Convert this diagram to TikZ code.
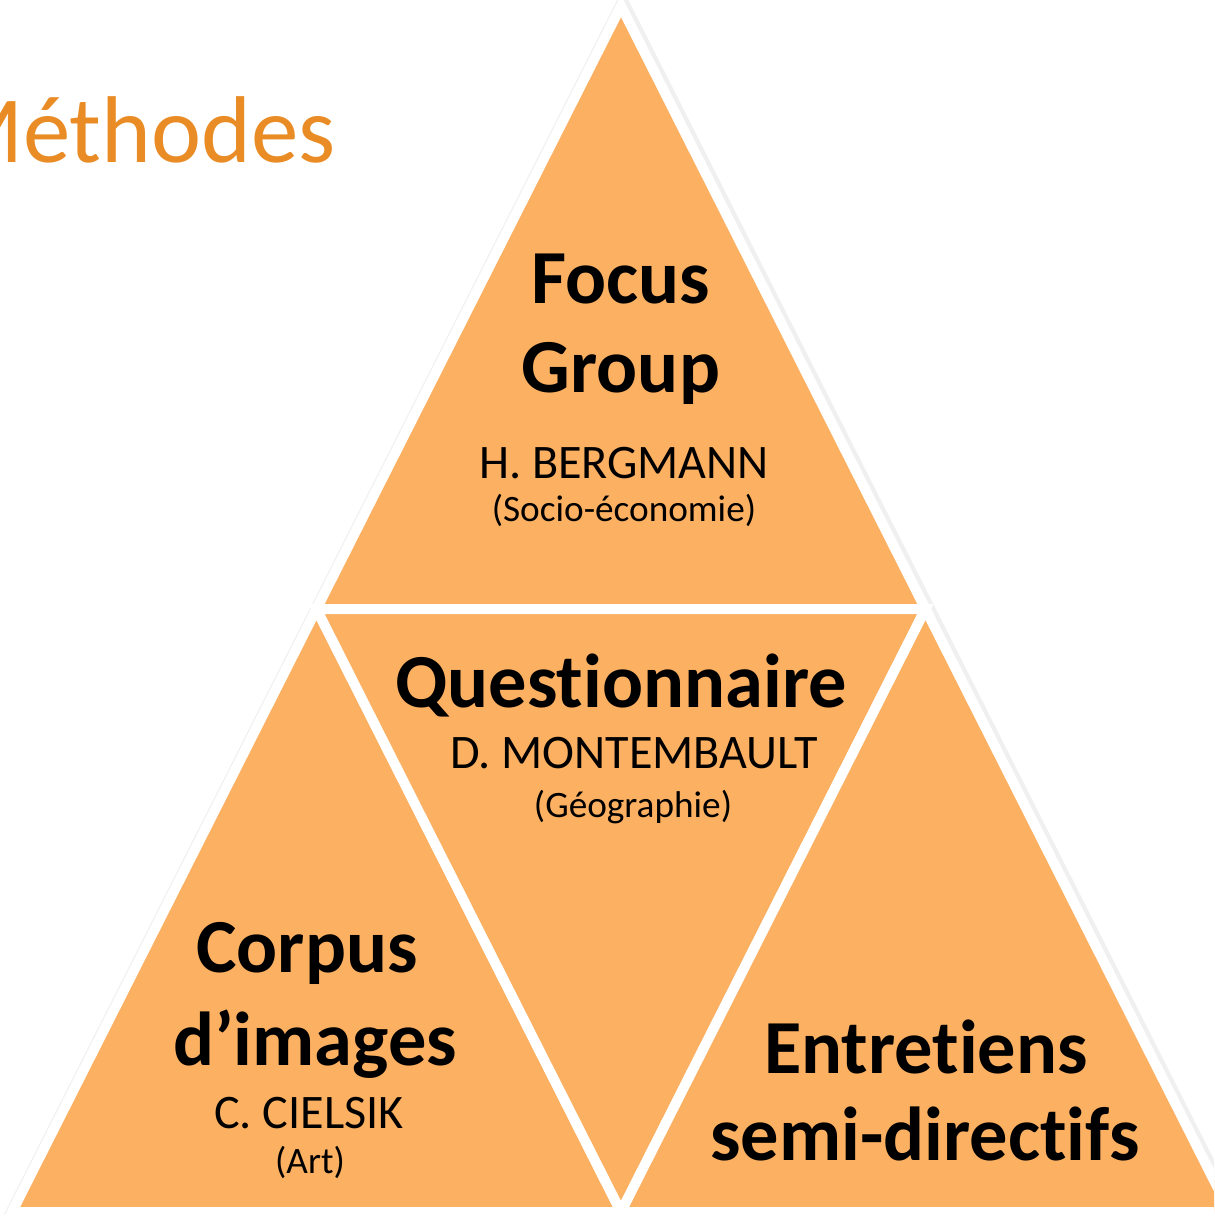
\documentclass[tikz,border=0pt]{standalone}
\usepackage{fontspec}
\setmainfont{Carlito}[Ligatures=NoCommon]
\usepackage{tikz}
\usetikzlibrary{positioning,calc}
\definecolor{trifill}{HTML}{FCB062}
\definecolor{titleorange}{HTML}{E98C26}
\tikzset{
  part/.style={fill=trifill, draw=white, line width=5.7pt, line join=miter},
  big/.style={font=\bfseries\fontsize{43.5}{48}\selectfont, anchor=base, inner sep=0pt},
  who/.style={font=\fontsize{27.4}{32}\selectfont, anchor=base, inner sep=0pt},
  field/.style={font=\fontsize{21.2}{25}\selectfont, anchor=base, inner sep=0pt}
}

\begin{document}
\begin{tikzpicture}[x=0.02cm,y=-0.02cm]
\useasboundingbox (0,0) rectangle (1214,1217);
\begin{scope}
\clip (0,0) rectangle (1214,1217);
% corners of the whole triangle
\coordinate (top) at (621,6);
\coordinate (bl) at (12,1212);
\coordinate (br) at (1230,1212);
\coordinate (ml) at ($(top)!0.5!(bl)$);
\coordinate (mr) at ($(top)!0.5!(br)$);
\coordinate (mb) at ($(bl)!0.5!(br)$);
% faint shadow
\draw[gray!12, line width=7pt, line join=miter] ([xshift=1,yshift=2]top) -- ([xshift=1,yshift=2]bl) -- ([xshift=1,yshift=2]br) -- cycle;
\draw[part] (top) -- (ml) -- (mr) -- cycle;
\draw[part] (ml) -- (bl) -- (mb) -- cycle;
\draw[part] (ml) -- (mr) -- (mb) -- cycle;
\draw[part] (mr) -- (mb) -- (br) -- cycle;
\end{scope}

% title
\node[anchor=base east, inner sep=0pt, text=titleorange, font=\fontsize{54}{60}\selectfont] (title) at (336,162) {Méthodes};

% top
\node[big] (focus) at (621,303) {Focus};
\node[big] (group) at (621,392) {Group};
\node[who] (bergmann) at (624,478) {H. BERGMANN};
\node[field] (socio) at (624,521) {(Socio-économie)};

% middle
\node[big] (quest) at (621,707) {Questionnaire};
\node[who] (montembault) at (634,768) {D. MONTEMBAULT};
\node[field] (geo) at (633,817) {(Géographie)};

% left
\node[big] (corpus) at (307,972) {Corpus};
\node[big] (images) at (315,1065) {d’images};
\node[who] (cielsik) at (309,1128) {C. CIELSIK};
\node[field] (art) at (310,1173) {(Art)};

% right
\node[big] (entretiens) at (926,1073) {Entretiens};
\node[big] (semi) at (925,1160) {semi-directifs};
\end{tikzpicture}
\end{document}
